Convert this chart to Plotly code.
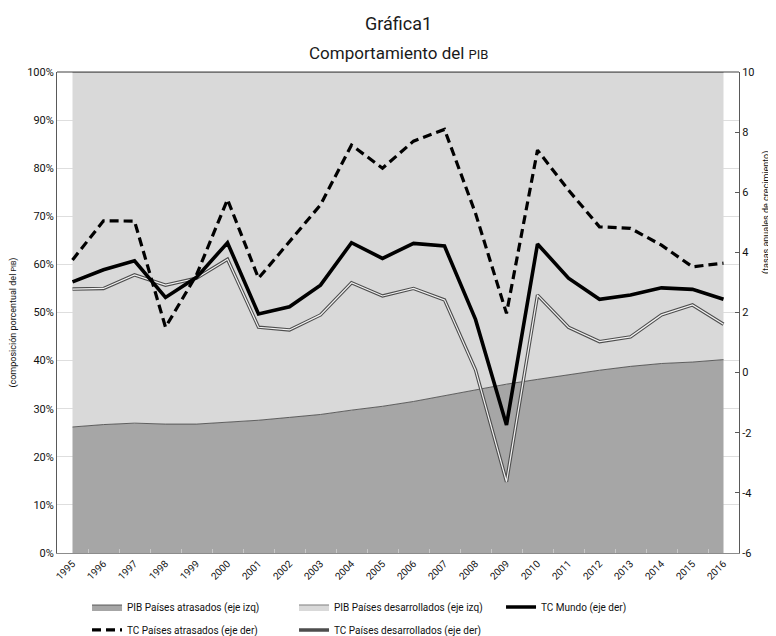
import plotly.graph_objects as go

years = [str(y) for y in range(1995, 2017)]

# Composición porcentual del PIB (eje izq)
pib_atrasados = [26.2, 26.7, 27.0, 26.8, 26.8, 27.2, 27.6, 28.2, 28.8, 29.7, 30.5,
                 31.5, 32.7, 33.9, 35.1, 36.1, 37.1, 38.0, 38.8, 39.4, 39.7, 40.2]
pib_desarrollados = [73.8, 73.3, 73.0, 73.2, 73.2, 72.8, 72.4, 71.8, 71.2, 70.3, 69.5,
                     68.5, 67.3, 66.1, 64.9, 63.9, 62.9, 62.0, 61.2, 60.6, 60.3, 59.8]

# Tasas anuales de crecimiento (eje der)
tc_mundo = [3.02, 3.42, 3.72, 2.50, 3.17, 4.32, 1.95, 2.19, 2.91, 4.32, 3.80,
            4.30, 4.21, 1.77, -1.74, 4.28, 3.14, 2.44, 2.58, 2.82, 2.77, 2.44]
tc_atrasados = [3.75, 5.05, 5.04, 1.51, 3.25, 5.76, 3.14, 4.36, 5.58, 7.57, 6.80,
                7.70, 8.09, 5.30, 1.97, 7.40, 6.07, 4.85, 4.80, 4.24, 3.52, 3.64]
tc_desarrollados = [2.78, 2.80, 3.25, 2.91, 3.14, 3.77, 1.51, 1.42, 1.92, 2.99, 2.55,
                    2.80, 2.42, 0.09, -3.63, 2.58, 1.51, 1.03, 1.19, 1.92, 2.25, 1.61]

# Etiquetas del eje derecho
right_ticks = [-6, -4, -2, 0, 2, 4, 6, 8, 10]
right_labels = ["-6", "-4", "-2", "0", "2", "4", "6", "8", "10"]

FONT = "Roboto, Liberation Sans, sans-serif"

fig = go.Figure()

fig.add_trace(go.Scatter(
    x=years, y=pib_atrasados, name="PIB Países atrasados (eje izq)",
    stackgroup="pib", mode="lines", fillcolor="#a6a6a6",
    line=dict(color="#404040", width=0.8), legend="legend"))
fig.add_trace(go.Scatter(
    x=years, y=pib_desarrollados, name="PIB Países desarrollados (eje izq)",
    stackgroup="pib", mode="lines", fillcolor="#d9d9d9",
    line=dict(color="#7f7f7f", width=1), legend="legend"))

fig.add_trace(go.Scatter(
    x=years, y=tc_desarrollados, name="TC Países desarrollados (eje der)",
    yaxis="y2", mode="lines", line=dict(color="#4d4d4d", width=3.4),
    legend="legend2"))
fig.add_trace(go.Scatter(
    x=years, y=tc_desarrollados, showlegend=False, hoverinfo="skip",
    yaxis="y2", mode="lines", line=dict(color="#f2f2f2", width=1.2)))
fig.add_trace(go.Scatter(
    x=years, y=tc_atrasados, name="TC Países atrasados (eje der)",
    yaxis="y2", mode="lines", line=dict(color="#000000", width=3.2, dash="9px,5px"),
    legend="legend2"))
fig.add_trace(go.Scatter(
    x=years, y=tc_mundo, name="TC Mundo (eje der)",
    yaxis="y2", mode="lines", line=dict(color="#000000", width=3.6),
    legend="legend"))

legend_common = dict(
    orientation="h", xanchor="left", yanchor="middle",
    xref="container", yref="container",
    entrywidth=162, entrywidthmode="pixels", font=dict(size=10, family=FONT),
    bgcolor="rgba(0,0,0,0)", x=0.1029)

fig.update_layout(
    width=768, height=628,
    margin=dict(l=49, r=37, t=64, b=83, autoexpand=False),
    paper_bgcolor="white", plot_bgcolor="white",
    font=dict(family=FONT, size=11, color="#111111"),
    showlegend=True,
    xaxis=dict(
        type="category", range=[-0.5, 21.5], tickangle=-45,
        tickfont=dict(size=10), ticks="inside", tickson="boundaries",
        ticklen=4, tickcolor="#c8c8c8", showgrid=False,
        showline=True, linecolor="#8c8c8c", linewidth=1, zeroline=False),
    yaxis=dict(
        range=[0, 100], dtick=10, ticksuffix="%", showgrid=True,
        gridcolor="#dedede", gridwidth=1, showline=True, linecolor="#595959",
        linewidth=1, zeroline=False, ticks="", tickfont=dict(size=11)),
    yaxis2=dict(
        range=[-6, 10], tickvals=right_ticks, ticktext=right_labels,
        overlaying="y", side="right", showgrid=False,
        showline=True, linecolor="#595959", linewidth=1, zeroline=False,
        ticks="inside", ticklen=4, tickcolor="#595959", tickfont=dict(size=11)),
    legend=dict(legend_common, y=0.0462, traceorder="normal"),
    legend2=dict(legend_common, y=0.0096, traceorder="reversed"),
    shapes=[dict(type="line", xref="paper", yref="paper", x0=0, x1=1, y0=1, y1=1,
                 line=dict(color="#404040", width=1))],
    annotations=[
        dict(text="Gráfica1", xref="paper", yref="paper", x=0.5, y=1.100,
             xanchor="center", yanchor="middle", showarrow=False,
             font=dict(size=18, family=FONT, color="#1a1a1a")),
        dict(text="Comportamiento del <span style='font-size:13px'>PIB</span>",
             xref="paper", yref="paper", x=0.5, y=1.0395,
             xanchor="center", yanchor="middle", showarrow=False,
             font=dict(size=17, family=FONT, color="#1a1a1a")),
        dict(text="(composición porcentual del <span style='font-size:7px'>PIB</span>)",
             xref="paper", yref="paper", x=-0.0638, y=0.48, textangle=-90,
             xanchor="center", yanchor="middle", showarrow=False,
             font=dict(size=9, family=FONT)),
        dict(text="(tasas anuales de crecimiento)",
             xref="paper", yref="paper", x=1.041, y=0.709, textangle=-90,
             xanchor="center", yanchor="middle", showarrow=False,
             font=dict(size=9, family=FONT)),
    ],
)

fig.write_html("out.html")
